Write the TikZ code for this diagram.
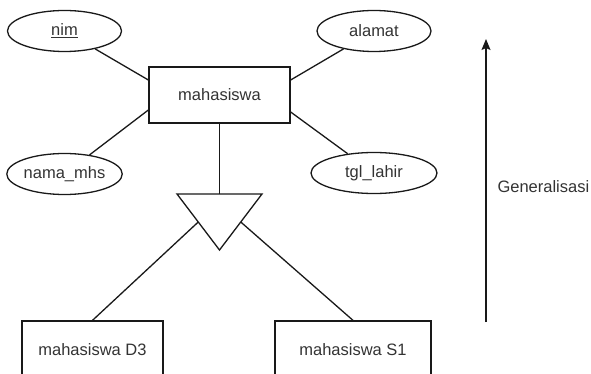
\documentclass[tikz,border=0pt]{standalone}
\usepackage{fontspec}
\setmainfont{Liberation Sans}
\usetikzlibrary{arrows.meta,shapes.geometric,calc}
\begin{document}
\begin{tikzpicture}[x=1pt,y=-1pt,
  every node/.style={font=\fontsize{16.5}{19}\selectfont, text=black!80},
  entity/.style={draw=black!90, line width=1.3pt, minimum width=141pt, minimum height=56pt, inner sep=0pt},
  attr/.style={draw=black!90, ellipse, line width=1.3pt, minimum width=114pt, minimum height=41pt, inner sep=0pt},
  link/.style={line width=1.3pt, draw=black!90}]
\useasboundingbox (0,0) rectangle (591,374);

% entities
\node[entity] (mhs) at (219.5,95) {mahasiswa};
\node[entity, minimum height=58pt] (d3) at (92.5,350) {mahasiswa D3};
\node[entity, minimum width=156pt, minimum height=58pt] (s1) at (353,350) {mahasiswa S1};

% attributes
\node[attr] (nim) at (64.5,31) {\underline{nim}};
\node[attr] (nama) at (64.5,174) {nama\_mhs};
\node[attr] (alamat) at (374,31) {alamat};
\node[attr, minimum width=126pt] (tgl) at (374,173) {tgl\_lahir};

% generalisation triangle
\coordinate (tl) at (177,194);
\coordinate (tr) at (262,194);
\coordinate (tb) at (219.5,250);
\draw[link, fill=white, line join=miter] (tl) -- (tr) -- (tb) -- cycle;
\coordinate (ttop) at (219.5,194);
\coordinate (lmid) at ($(tl)!0.5!(tb)$);
\coordinate (rmid) at ($(tr)!0.5!(tb)$);

% connectors
\draw[link] (mhs.south) -- (ttop);
\draw[link] (nim) -- (mhs.west |- 0,80);
\draw[link] (nama) -- (mhs.west |- 0,110);
\draw[link] (alamat) -- (mhs.east |- 0,80);
\draw[link] (tgl) -- (mhs.east |- 0,112);
\draw[link] (lmid) -- (d3.north);
\draw[link] (rmid) -- (s1.north);

% direction arrow
\coordinate (abot) at (486,322);
\coordinate (atop) at (486,39);
\draw[link, -{Stealth[length=11pt, width=9pt, inset=2pt]}] (abot) -- (atop);
\node[anchor=west] (gen) at (494,187) {Generalisasi};
\end{tikzpicture}
\end{document}
